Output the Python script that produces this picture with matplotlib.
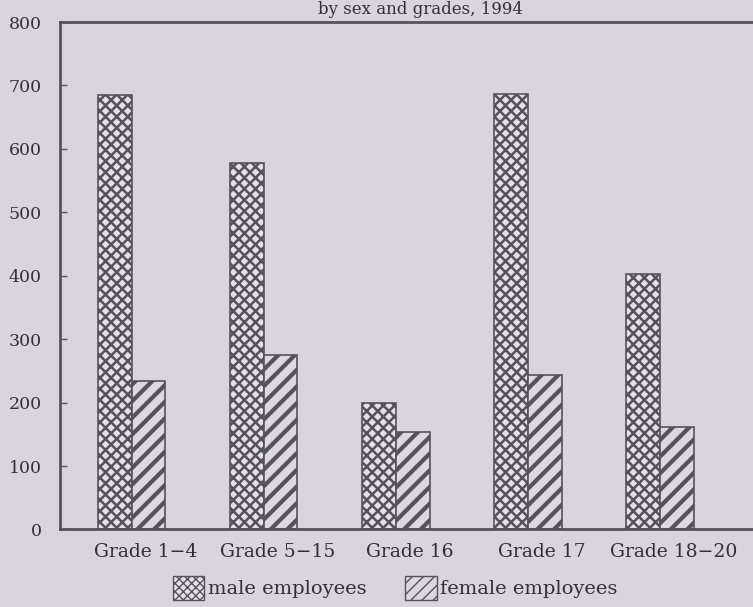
import numpy as np
import matplotlib
matplotlib.use("Agg")
import matplotlib.pyplot as plt
import matplotlib.transforms as mtransforms
from matplotlib.patches import Patch

# Employees by sex and grades, 1994
grades = ["Grade 1\u22124", "Grade 5\u221215", "Grade 16", "Grade 17", "Grade 18\u221220"]
male = [685, 578, 200, 686, 402]
female = [234, 275, 154, 243, 162]

bg = "#d9d4df"
ink = "#55535a"
txt = "#323035"

plt.rcParams["font.family"] = ["DejaVu Serif"]
plt.rcParams["hatch.color"] = ink

fig = plt.figure(figsize=(7.53, 6.07), dpi=100, facecolor=bg)
ax = fig.add_axes([0.0797, 0.1277, 0.93, 0.836])
ax.set_facecolor(bg)

x = np.arange(len(grades))
w = 0.255
b1 = ax.bar(x - w / 2, male, w, facecolor="#e4dfe8", edgecolor=ink, hatch="xxx", linewidth=1.2)
b2 = ax.bar(x + w / 2, female, w, facecolor="#dcd7e0", edgecolor=ink, hatch="//", linewidth=1.2)
for p in b1:
    p.set_hatch_linewidth(1.8)
for p in b2:
    p.set_hatch_linewidth(3.0)

ax.set_xlim(-0.543, 4.76)
ax.set_ylim(0, 800)
ax.set_yticks(range(0, 801, 100))
ax.tick_params(axis="y", direction="in", length=5, width=1, color=ink, labelsize=12.5, pad=13, labelcolor=txt)
ax.set_xticks(x)
ax.set_xticklabels(grades, fontsize=13.5, color=txt)
ax.tick_params(axis="x", length=0, pad=10)
offset = mtransforms.ScaledTranslation(14 / 100, 0, fig.dpi_scale_trans)
for lab in ax.get_xticklabels():
    lab.set_transform(lab.get_transform() + offset)

for s in ["left", "top", "bottom"]:
    ax.spines[s].set_color(ink)
    ax.spines[s].set_linewidth(2)
ax.spines["right"].set_visible(False)

fig.text(0.558, 1 - 1 / 607, "by sex and grades, 1994", ha="center", va="top",
         fontsize=12, color=txt)

handles = [Patch(facecolor="#e4dfe8", edgecolor=ink, hatch="xxxx", label="male employees"),
           Patch(facecolor="#dcd7e0", edgecolor=ink, hatch="///", label="female employees")]
fig.legend(handles=handles, loc="center", bbox_to_anchor=(0.525, 1 - 588 / 607), ncol=2,
           frameon=False, fontsize=14, handlelength=1.6, handleheight=1.5,
           handletextpad=0.2, columnspacing=2.0, labelcolor=txt)

fig.savefig("out.png", dpi=100, facecolor=bg)
